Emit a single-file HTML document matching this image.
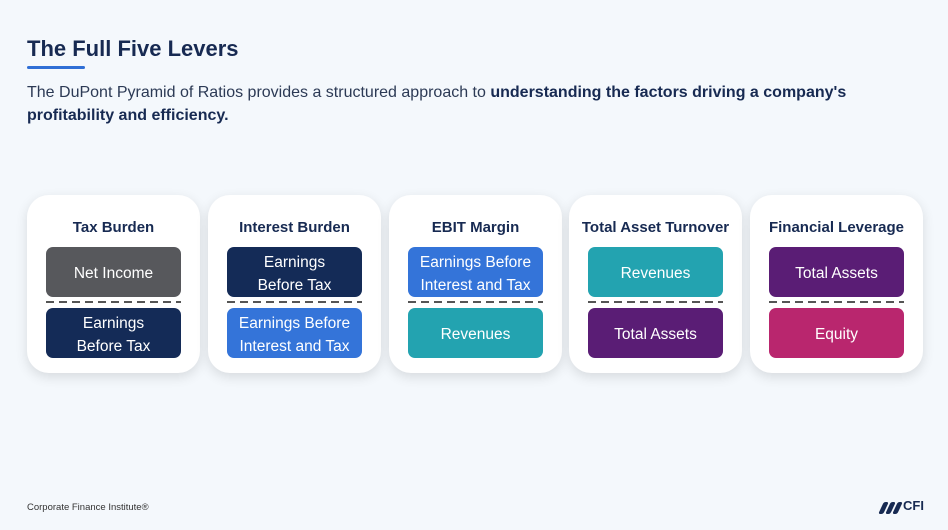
<!DOCTYPE html>
<html><head><style>
body{margin:0;width:948px;height:530px;background:#f4f8fc;font-family:"Liberation Sans",sans-serif;position:relative;overflow:hidden;color:#172a52}
h1{position:absolute;left:27px;top:36px;margin:0;font-size:22px;font-weight:bold;color:#172a52}
.bar{position:absolute;left:27px;top:66px;width:58px;height:3px;background:#2f6fd6;border-radius:2px}
p{position:absolute;left:27px;top:81px;margin:0;width:880px;font-size:16px;line-height:23px;color:#2c3a55}
p b{color:#172a52}
.card{position:absolute;top:195px;width:173px;height:178px;background:#fff;border-radius:22px;box-shadow:0 4px 12px rgba(0,0,0,.12)}
.card h3{position:absolute;top:24px;left:0;right:0;margin:0;text-align:center;font-size:15px;font-weight:bold;color:#172a52}
.box{position:absolute;left:19px;width:135px;height:50px;padding-top:3px;box-sizing:border-box;border-radius:7px;color:#fff;font-size:15.5px;line-height:23px;display:flex;align-items:center;justify-content:center;text-align:center}
.t{top:52px}.b{top:113px}
.dash{position:absolute;left:19px;width:135px;top:106px;height:2px;background:repeating-linear-gradient(90deg,#555 0 8px,transparent 8px 13px)}
.foot{position:absolute;left:27px;top:502px;font-size:9.5px;color:#333}
.cfi{position:absolute;left:903px;top:498px;font-size:13px;font-weight:bold;color:#172a52}
.s{position:absolute;top:502px;width:5px;height:12px;background:#172a52;transform:skewX(-25deg);border-radius:2px}
</style></head><body>
<h1>The Full Five Levers</h1><div class="bar"></div>
<p>The DuPont Pyramid of Ratios provides a structured approach to <b>understanding the factors driving a company's profitability and efficiency.</b></p>
<div class="card" style="left:27px"><h3>Tax Burden</h3><div class="box t" style="background:#57585c">Net Income</div><div class="dash"></div><div class="box b" style="background:#142b57">Earnings<br>Before Tax</div></div>
<div class="card" style="left:208px"><h3>Interest Burden</h3><div class="box t" style="background:#142b57">Earnings<br>Before Tax</div><div class="dash"></div><div class="box b" style="background:#3474d9">Earnings Before<br>Interest and Tax</div></div>
<div class="card" style="left:389px"><h3>EBIT Margin</h3><div class="box t" style="background:#3474d9">Earnings Before<br>Interest and Tax</div><div class="dash"></div><div class="box b" style="background:#23a3b0">Revenues</div></div>
<div class="card" style="left:569px"><h3>Total Asset Turnover</h3><div class="box t" style="background:#23a3b0">Revenues</div><div class="dash"></div><div class="box b" style="background:#5a1d75">Total Assets</div></div>
<div class="card" style="left:750px"><h3>Financial Leverage</h3><div class="box t" style="background:#5a1d75">Total Assets</div><div class="dash"></div><div class="box b" style="background:#b9266e">Equity</div></div>
<div class="foot">Corporate Finance Institute®</div>
<div class="s" style="left:881px"></div><div class="s" style="left:888px"></div><div class="s" style="left:895px"></div>
<div class="cfi">CFI</div>
</body></html>
